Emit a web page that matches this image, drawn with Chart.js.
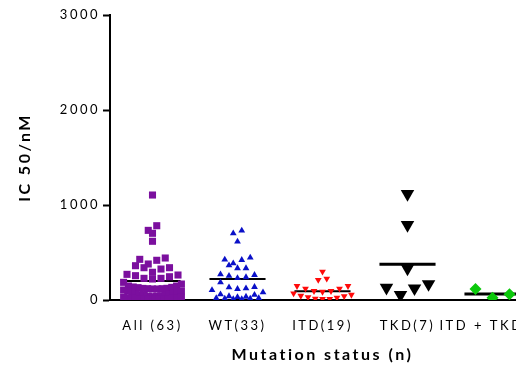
<!DOCTYPE html>
<html>
<head>
<meta charset="utf-8">
<script src="https://cdn.jsdelivr.net/npm/chart.js@4/dist/chart.umd.min.js"></script>
<style>
  html, body { margin: 0; padding: 0; background: #fff; overflow: hidden; }
  #wrap { width: 516px; height: 365px; overflow: hidden; }
  canvas { display: block; }
</style>
</head>
<body>
<div id="wrap"><canvas id="chart" width="560" height="365"></canvas></div>
<script>
// Group labels along the x axis
const categories = ['All (63)', 'WT(33)', 'ITD(19)', 'TKD(7)', 'ITD + TKD(3)'];

// IC50 values (nM) per mutation group
const allIC50 = [1105, 782, 733, 702, 618, 442, 428, 418, 379, 361, 340, 340, 326,
  292, 270, 263, 256, 245, 228, 228, 221, 186,
  168, 147, 147, 137, 133, 130, 123, 122, 119, 119, 116, 116, 105, 95, 95, 87, 80, 70, 60, 60,
  55, 55, 53, 45, 40, 40, 35, 30, 30, 25, 24, 20, 20, 15, 15, 15, 12, 10, 10, 10, 10];
const wtIC50 = [730, 702, 614, 446, 425, 421, 386, 365, 334, 334, 270, 263, 255, 240, 230, 186,
  137, 133, 122, 116, 105, 80, 60, 55, 40, 35, 30, 20, 20, 15, 15, 10, 10];
const itdIC50 = [298, 225, 211, 147, 147, 119, 119, 95, 95, 87, 70, 55, 45, 40, 30, 25, 15, 12, 10];
const tkdIC50 = [1116, 790, 333, 168, 130, 123, 53];
const itdTkdIC50 = [116, 24, 60];

// Mean IC50 for each group (horizontal bars)
const groupMeans = [200, 221, 92, 376, 63];

// Y axis tick values
const yTicks = [0, 1000, 2000, 3000];

const groupValues = [allIC50, wtIC50, itdIC50, tkdIC50, itdTkdIC50];

// Marker look and swarm layout per group
const groupStyles = [
  { color: '#7B0F9E', pointStyle: 'rect',     radius: 5,   rotation: 0,   spacing: 0.10,  bin: 72,  meanWidth: 2 },
  { color: '#0A10C8', pointStyle: 'triangle', radius: 3.9, rotation: 0,   spacing: 0.10,  bin: 75,  meanWidth: 2 },
  { color: '#FF0A0A', pointStyle: 'triangle', radius: 3.9, rotation: 180, spacing: 0.10,  bin: 60,  meanWidth: 2 },
  { color: '#000000', pointStyle: 'triangle', radius: 7.8, rotation: 180, spacing: 0.165, bin: 130, meanWidth: 3 },
  { color: '#0BC80B', pointStyle: 'rectRot',  radius: 6,   rotation: 0,   spacing: 0.20,  bin: 130, meanWidth: 3 }
];
const SWARM_HALF_WIDTH = 0.34;
const MEAN_HALF_WIDTH = 0.33;

// Lay out a group as a column scatter: working down from the highest value,
// values within one bin share a row; the lowest value of a row sits in the
// middle and the others alternate outwards.
function swarm(values, center, spacing, bin, halfWidth) {
  const sorted = values.slice().sort((a, b) => b - a);
  const rows = [];
  let row = null;
  for (const v of sorted) {
    if (!row || row[0] - v > bin) { row = [v]; rows.push(row); }
    else row.push(v);
  }
  const pts = [];
  for (const r of rows) {
    r.sort((a, b) => a - b);
    const n = r.length;
    const step = n > 1 ? Math.min(spacing, (2 * halfWidth) / (n - 1)) : 0;
    const slots = [];
    for (let k = 0; k < n; k++) slots.push((k - (n - 1) / 2) * step);
    const odd = n % 2 === 1;
    slots.sort((a, b) => {
      const d = Math.abs(a) - Math.abs(b);
      if (Math.abs(d) > 1e-9) return d;
      return odd ? b - a : a - b;
    });
    r.forEach((v, k) => pts.push({ x: center + slots[k], y: v }));
  }
  return pts;
}

const datasets = [];
groupValues.forEach((vals, i) => {
  const s = groupStyles[i];
  datasets.push({
    type: 'scatter',
    label: categories[i],
    data: swarm(vals, i, s.spacing, s.bin, SWARM_HALF_WIDTH),
    pointStyle: s.pointStyle,
    pointRadius: s.radius,
    pointRotation: s.rotation,
    pointBackgroundColor: s.color,
    pointBorderColor: s.color,
    pointBorderWidth: 0,
    order: 1
  });
  datasets.push({
    type: 'line',
    label: categories[i] + ' mean',
    data: [{ x: i - MEAN_HALF_WIDTH, y: groupMeans[i] }, { x: i + MEAN_HALF_WIDTH, y: groupMeans[i] }],
    borderColor: '#000',
    borderWidth: s.meanWidth,
    pointRadius: 0,
    fill: false,
    order: 2
  });
});

// Axis text is drawn with wide tracking
const tracking = {
  id: 'tracking',
  beforeUpdate(c) { c.ctx.letterSpacing = '2.5px'; },
  beforeDraw(c) { c.ctx.letterSpacing = '2.5px'; }
};

const textColor = '#000';

new Chart(document.getElementById('chart'), {
  data: { datasets },
  plugins: [tracking],
  options: {
    responsive: false,
    animation: false,
    devicePixelRatio: 1,
    layout: { padding: { top: 15, right: 25, left: 0, bottom: 0 } },
    plugins: { legend: { display: false }, tooltip: { enabled: false } },
    scales: {
      x: {
        type: 'linear',
        min: -0.5,
        max: 4.5,
        afterBuildTicks(scale) { scale.ticks = categories.map((_, i) => ({ value: i })); },
        afterFit(scale) { scale.height = 65; },
        grid: { display: false },
        border: { display: true, color: '#000', width: 2 },
        ticks: {
          color: textColor,
          font: { family: 'Lato', size: 13 },
          padding: 10,
          maxRotation: 0,
          autoSkip: false,
          callback: (v) => categories[v]
        },
        title: {
          display: true,
          text: 'Mutation status (n)',
          color: textColor,
          font: { family: 'Lato', size: 16, weight: 'bold' },
          padding: { top: 0, bottom: 0.5 }
        }
      },
      y: {
        type: 'linear',
        min: 0,
        max: 3000,
        afterBuildTicks(scale) { scale.ticks = yTicks.map(v => ({ value: v })); },
        afterFit(scale) { scale.width = 110; },
        grid: { display: true, drawOnChartArea: false, drawTicks: true, tickLength: 7, tickWidth: 2, tickColor: '#000' },
        border: { display: true, color: '#000', width: 2 },
        ticks: {
          color: textColor,
          font: { family: 'Lato', size: 13 },
          padding: 3,
          callback: (v) => String(v)
        },
        title: {
          display: true,
          text: 'IC 50/nM',
          color: textColor,
          font: { family: 'Lato', size: 16, weight: 'bold' },
          padding: { top: 15.5, bottom: 0 }
        }
      }
    }
  }
});
</script>
</body>
</html>
